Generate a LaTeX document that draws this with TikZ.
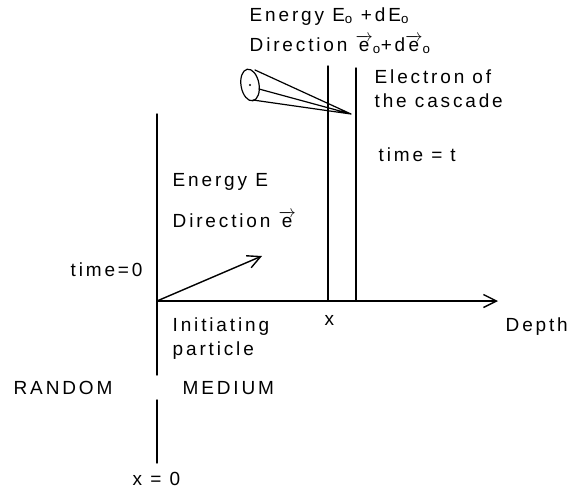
\documentclass[tikz,border=0pt]{standalone}
\usepackage{fontspec}
\setmainfont[LetterSpace=15]{Liberation Sans}
\usetikzlibrary{arrows.meta}

\newcommand\vecsym[1]{$\overrightarrow{\hbox{#1}}$}

\begin{document}
\begin{tikzpicture}[x=1pt, y=-1pt, line join=round, line cap=round,
    line width=1.4pt, >={Straight Barb[length=13pt,width=13pt]},
    lbl/.style={inner sep=0pt, anchor=base west, font=\fontsize{19}{24}\selectfont}]
	\useasboundingbox (0,0) rectangle (575,493);
	
	\coordinate (O) at (157,301);
	\coordinate (T) at (157,114);
	\coordinate (G1) at (157,375);
	\coordinate (G2) at (157,400);
	\coordinate (B) at (157,463);
	\coordinate (D) at (498,301);
	\coordinate (P) at (262,256);
	
	\coordinate (X1) at (328,66);
	\coordinate (X1') at (328,301);
	\coordinate (X2) at (356,68);
	\coordinate (X2') at (356,301);
	
	\coordinate (C) at (250,85);
	\coordinate (K) at (351,114);
	\coordinate (Ct) at (255,70);
	\coordinate (Cm) at (259,89);
	\coordinate (Cb) at (253,100);
	
	% medium boundary and axis
	\draw (T)--(G1) (G2)--(B);
	\draw[->] (O)--(D);
	\draw[->] (O)--(P);
	\draw (X1)--(X1') (X2)--(X2');
	
	% cone of the cascade electron
	\draw[line width=1.2pt, rotate around={10:(C)}] (C) ellipse (9 and 16);
	\draw[line width=1.2pt] (Ct)--(K) (Cm)--(K) (Cb)--(K);
	\fill (C) circle (1.2);
	
	\node[lbl] (eo) at (249,21) {Energy E\textsubscript{o} +dE\textsubscript{o}};
	\node[lbl] (do) at (249,51) {Direction \vecsym{e}\textsubscript{o}+d\vecsym{e}\textsubscript{o}};
	\node[lbl, align=left] (el) at (374,107) {Electron of\\the cascade};
	\node[lbl] (tt) at (378,161) {time = t};
	\node[lbl] (en) at (172,186) {Energy E};
	\node[lbl] (di) at (172,227) {Direction \vecsym{e}};
	\node[lbl] (t0) at (70,276) {time=0};
	\node[lbl, align=left] (ip) at (172,355) {Initiating\\particle};
	\node[lbl] (xx) at (324,325) {x};
	\node[lbl] (de) at (505,331) {Depth};
	\node[lbl] (ra) at (13,394) {RANDOM};
	\node[lbl] (me) at (182,394) {MEDIUM};
	\node[lbl] (x0) at (132,485) {x = 0};
\end{tikzpicture}
\end{document}
